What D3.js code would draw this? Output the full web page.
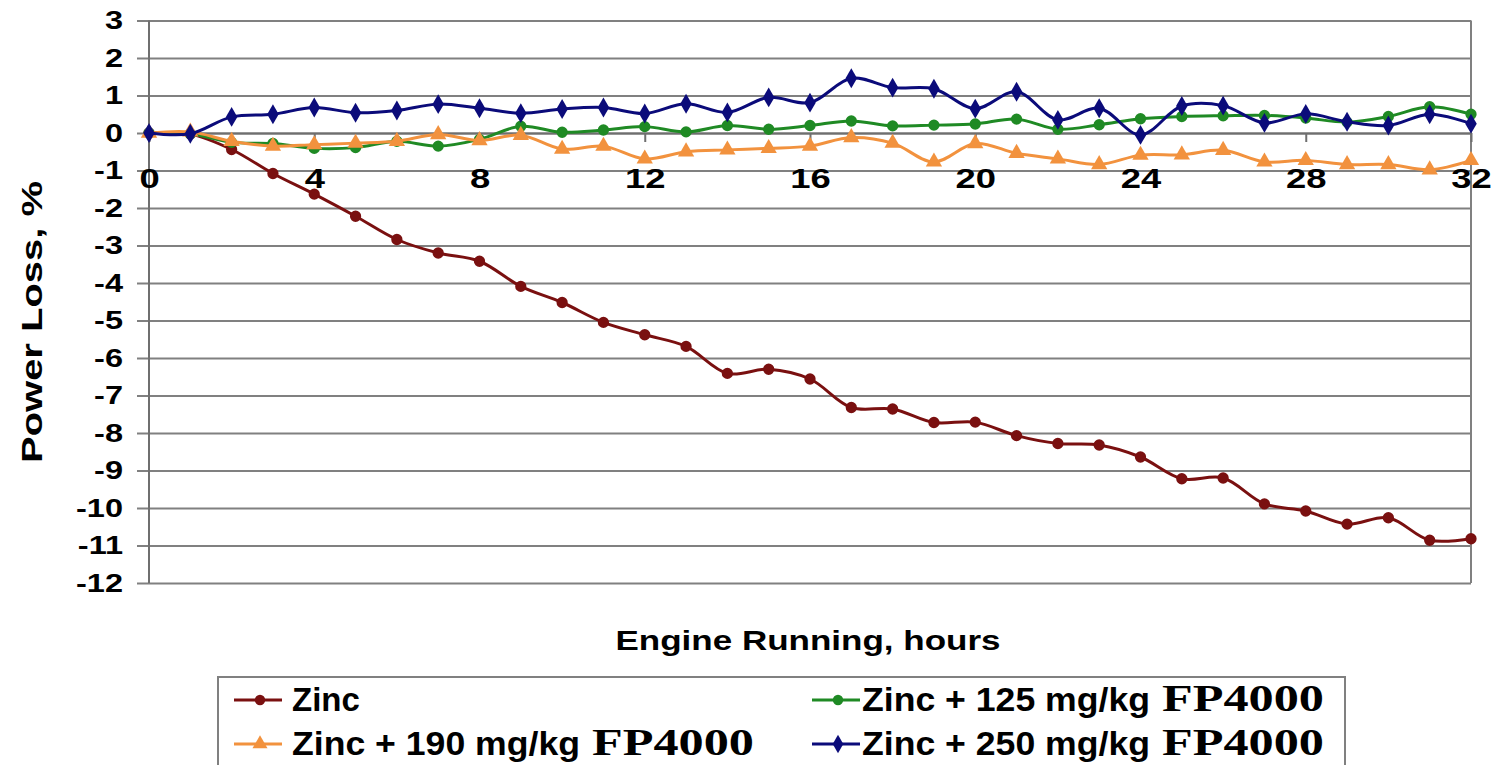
<!DOCTYPE html>
<html>
<head>
<meta charset="utf-8">
<script src="https://cdn.jsdelivr.net/npm/d3@7"></script>
<style>
  html, body { margin: 0; padding: 0; background: #ffffff; }
  svg { display: block; }
  text { font-family: "Liberation Sans", Arial, sans-serif; font-weight: bold; fill: #000; }
</style>
</head>
<body>
<svg id="chart" width="1496" height="765"></svg>
<script>
// ---------------- data ----------------
const hours = d3.range(0, 33);
const zinc = [0, -0.03, -0.44, -1.08, -1.63, -2.22, -2.84, -3.2, -3.42, -4.09, -4.52, -5.05, -5.38, -5.69, -6.41, -6.3, -6.56, -7.32, -7.36, -7.72, -7.71, -8.07, -8.28, -8.32, -8.64, -9.22, -9.2, -9.89, -10.08, -10.43, -10.26, -10.86, -10.82];
const zinc125 = [0, -0.02, -0.25, -0.28, -0.41, -0.39, -0.22, -0.35, -0.17, 0.18, 0.02, 0.08, 0.17, 0.03, 0.2, 0.1, 0.2, 0.32, 0.19, 0.21, 0.24, 0.37, 0.1, 0.22, 0.38, 0.44, 0.46, 0.47, 0.4, 0.29, 0.44, 0.7, 0.5];
const zinc190 = [0, 0.03, -0.22, -0.35, -0.31, -0.27, -0.22, -0.04, -0.2, -0.06, -0.43, -0.35, -0.69, -0.5, -0.45, -0.41, -0.35, -0.12, -0.27, -0.77, -0.28, -0.54, -0.69, -0.84, -0.59, -0.58, -0.46, -0.77, -0.73, -0.84, -0.84, -0.98, -0.73];
const zinc250 = [0, -0.02, 0.43, 0.5, 0.68, 0.54, 0.6, 0.77, 0.66, 0.53, 0.64, 0.68, 0.52, 0.78, 0.55, 0.95, 0.81, 1.46, 1.21, 1.18, 0.65, 1.1, 0.35, 0.66, -0.05, 0.72, 0.73, 0.27, 0.51, 0.3, 0.2, 0.5, 0.25];
const seriesNames = ["Zinc", "Zinc + 125 mg/kg", "Zinc + 190 mg/kg", "Zinc + 250 mg/kg"];
const seriesSuffix = ["", "FP4000", "FP4000", "FP4000"];
const yTickValues = d3.range(-12, 4);
const xTickValues = [0, 4, 8, 12, 16, 20, 24, 28, 32];
const xTitle = "Engine Running, hours";
const yTitle = "Power Loss, %";

// ---------------- styles ----------------
const colors = ["#7a1010", "#1f8a24", "#f2923e", "#0b0b7a"];
const symbols = [d3.symbolCircle, d3.symbolCircle, d3.symbolTriangle, d3.symbolDiamond];
const symSizes = [100, 100, 115, 115];
const seriesValues = [zinc, zinc125, zinc190, zinc250];

const svg = d3.select("#chart");
const x = d3.scaleLinear().domain([0, 32]).range([149, 1471]);
const y = d3.scaleLinear().domain([-12, 3]).range([583, 20.5]);
const gridLeft = 137, plotRight = 1471;

function stretch(sel, sx) {
  sel.each(function() {
    const len = this.getComputedTextLength();
    d3.select(this).attr("textLength", len * sx).attr("lengthAdjust", "spacingAndGlyphs");
  });
}

// horizontal gridlines + y tick labels
const yAxis = svg.append("g")
  .attr("transform", `translate(${gridLeft},0)`)
  .call(d3.axisLeft(y).tickValues(yTickValues)
    .tickSizeInner(-(plotRight - gridLeft)).tickSizeOuter(0).tickPadding(14)
    .tickFormat(d => String(d)));
yAxis.select(".domain").remove();
yAxis.selectAll(".tick line").attr("stroke", "#808080").attr("stroke-width", 2);
yAxis.selectAll(".tick text").style("font-size", "26px").attr("fill", "#000");
stretch(yAxis.selectAll(".tick text"), 1.25);

// vertical axis line and right border
svg.append("line").attr("x1", x(0)).attr("x2", x(0)).attr("y1", y(3)).attr("y2", y(-12))
  .attr("stroke", "#6f6f6f").attr("stroke-width", 2);
svg.append("line").attr("x1", plotRight).attr("x2", plotRight).attr("y1", y(3)).attr("y2", y(-12))
  .attr("stroke", "#808080").attr("stroke-width", 2);

// x axis (crossing at 0)
const xAxis = svg.append("g")
  .attr("transform", `translate(0,${y(0)})`)
  .call(d3.axisBottom(x).tickValues(xTickValues).tickSizeInner(9).tickSizeOuter(0).tickPadding(26)
    .tickFormat(d => String(d)));
xAxis.select(".domain").attr("stroke", "#6f6f6f").attr("stroke-width", 2);
xAxis.selectAll(".tick line").attr("stroke", "#6f6f6f").attr("stroke-width", 2);
xAxis.selectAll(".tick text").style("font-size", "28px").attr("fill", "#000");
stretch(xAxis.selectAll(".tick text"), 1.3);

// series
const line = d3.line().x((d, i) => x(hours[i])).y(d => y(d)).curve(d3.curveCatmullRom.alpha(0.5));
seriesValues.forEach((vals, k) => {
  const g = svg.append("g");
  g.append("path").datum(vals).attr("d", line).attr("fill", "none")
    .attr("stroke", colors[k]).attr("stroke-width", 3).attr("stroke-linejoin", "round");
  g.selectAll("path.m").data(vals).join("path").attr("class", "m")
    .attr("d", d3.symbol().type(symbols[k]).size(symSizes[k]))
    .attr("transform", (d, i) => `translate(${x(hours[i])},${y(d)})`)
    .attr("fill", colors[k]);
});

// axis titles
svg.append("text").attr("x", 808).attr("y", 650).attr("text-anchor", "middle")
  .style("font-size", "28px").attr("textLength", 385).attr("lengthAdjust", "spacingAndGlyphs").text(xTitle);
svg.append("text").attr("transform", "translate(42,322) rotate(-90)").attr("text-anchor", "middle")
  .style("font-size", "30px").attr("textLength", 282).attr("lengthAdjust", "spacingAndGlyphs").text(yTitle);

// legend
svg.append("rect").attr("x", 218).attr("y", 677).attr("width", 1127).attr("height", 110)
  .attr("fill", "none").attr("stroke", "#808080").attr("stroke-width", 2);
const legendPos = [
  {lx: 234, tx: 292, cy: 700},
  {lx: 812, tx: 862, cy: 700},
  {lx: 234, tx: 292, cy: 744},
  {lx: 812, tx: 862, cy: 744}
];
seriesNames.forEach((name, k) => {
  const p = legendPos[k];
  const g = svg.append("g");
  g.append("line").attr("x1", p.lx).attr("x2", p.lx + 48).attr("y1", p.cy).attr("y2", p.cy)
    .attr("stroke", colors[k]).attr("stroke-width", 3);
  g.append("path").attr("d", d3.symbol().type(symbols[k]).size(symSizes[k] * 0.85)())
    .attr("transform", `translate(${p.lx + 26},${p.cy})`).attr("fill", colors[k]);
  const t = g.append("text").attr("x", p.tx).attr("y", p.cy + 11).style("font-size", "33px").text(name);
  if (k > 0) t.attr("textLength", 288).attr("lengthAdjust", "spacingAndGlyphs");
  if (seriesSuffix[k]) {
    g.append("text").attr("x", p.tx + 300).attr("y", p.cy + 11)
      .style("font-family", '"Liberation Serif", "Times New Roman", serif')
      .style("font-size", "38px").attr("textLength", 162).attr("lengthAdjust", "spacingAndGlyphs")
      .text(seriesSuffix[k]);
  }
});
</script>
</body>
</html>
